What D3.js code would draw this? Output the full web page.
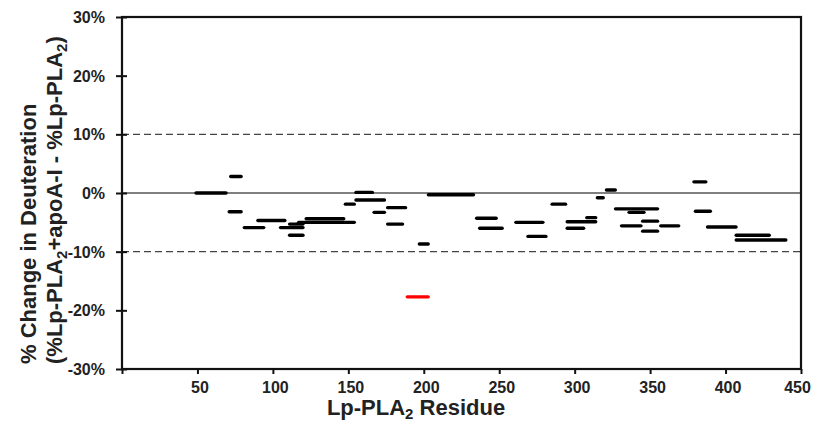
<!DOCTYPE html>
<html><head><meta charset="utf-8">
<script src="https://cdn.jsdelivr.net/npm/d3@7"></script>
<style>body{margin:0;background:#fff}svg{display:block}text{font-family:"Liberation Sans",Arial,sans-serif;font-weight:bold;fill:#222}</style>
</head><body>
<script>
// peptide segments: residue start, residue end, % change in deuteration
const segStart = [48,71,70,89,80,104,110,110,121,116,147,154,154,166,175,175,196,202,234,236,260,268,284,294,294,307,314,320,326,335,344,330,356,344,378,379,387,406,406];
const segEnd   = [70,80,80,109,95,121,121,121,148,155,155,167,175,175,189,187,204,234,249,253,280,282,295,307,315,315,320,328,356,347,356,345,370,356,388,391,408,430,441];
const segValue = [0,2.8,-3.2,-4.7,-5.9,-5.9,-5.3,-7.2,-4.4,-5.0,-1.9,0.1,-1.2,-3.3,-2.5,-5.3,-8.7,-0.3,-4.3,-6.0,-5.0,-7.4,-1.9,-6.0,-4.9,-4.2,-0.8,0.5,-2.7,-3.3,-4.8,-5.6,-5.6,-6.5,1.9,-3.1,-5.8,-7.2,-8.0];
// significant peptide (red)
const sigStart = [188];
const sigEnd = [204];
const sigValue = [-17.7];
const xTicks = [50,100,150,200,250,300,350,400,450];
const yTicks = [-30,-20,-10,0,10,20,30];
const threshold = [-10,10];

const W=813,H=422;
const svg=d3.select("body").append("svg").attr("width",W).attr("height",H);
const x=d3.scaleLinear().domain([0,450]).range([122,801]);
const y=d3.scaleLinear().domain([-30,30]).range([369,17]);

const defs=svg.append("defs");
defs.append("filter").attr("id","blur").append("feGaussianBlur").attr("stdDeviation",1.5);

// threshold dashed lines
svg.selectAll("line.thr").data(threshold).enter().append("line")
  .attr("x1",x(0)).attr("x2",x(450)).attr("y1",d=>y(d)).attr("y2",d=>y(d))
  .attr("stroke","#444").attr("stroke-width",1.3).attr("stroke-dasharray","7,4");

// zero line with shadow
svg.append("line").attr("x1",x(0)).attr("x2",x(450)).attr("y1",y(0)+2.5).attr("y2",y(0)+2.5)
  .attr("stroke","#bbb").attr("stroke-width",3).attr("filter","url(#blur)");
svg.append("line").attr("x1",x(0)).attr("x2",x(450)).attr("y1",y(0)).attr("y2",y(0))
  .attr("stroke","#555").attr("stroke-width",1.6);

// axes
const yAxis=d3.axisLeft(y).tickValues(yTicks).tickSize(4).tickFormat(d=>d+"%");
const gy=svg.append("g").attr("transform",`translate(${x(0)},0)`).call(yAxis);
gy.select(".domain").remove();
gy.selectAll(".tick line").attr("x1",-6).attr("x2",5).attr("stroke","#111").attr("stroke-width",2);
gy.selectAll(".tick text").attr("x",-17).attr("dy","0.35em").style("font-size","16px").style("fill","#222");

const xAxis=d3.axisBottom(x).tickValues([0].concat(xTicks)).tickSize(5).tickFormat(d=>d===0?"":d);
const gx=svg.append("g").attr("transform",`translate(0,${y(-30)})`).call(xAxis);
gx.select(".domain").remove();
gx.selectAll(".tick line").attr("y1",0).attr("y2",5).attr("stroke","#111").attr("stroke-width",2);
gx.selectAll(".tick text").attr("y",24).attr("dy",0).style("font-size","16px").style("fill","#222")
  .attr("dx",d=>d===450?-4:2);

// frame
svg.append("rect").attr("x",x(0)).attr("y",y(30)).attr("width",x(450)-x(0)).attr("height",y(-30)-y(30))
  .attr("fill","none").attr("stroke","#111").attr("stroke-width",2.2);

// segments
const cap=1.6;
const segs=segStart.map((s,i)=>({s,e:segEnd[i],v:segValue[i]}));
svg.selectAll("line.seg").data(segs).enter().append("line")
  .attr("x1",d=>x(d.s)+cap).attr("x2",d=>x(d.e)-cap).attr("y1",d=>y(d.v)).attr("y2",d=>y(d.v))
  .attr("stroke","#000").attr("stroke-width",3.4).attr("stroke-linecap","round");
const sig=sigStart.map((s,i)=>({s,e:sigEnd[i],v:sigValue[i]}));
svg.selectAll("line.sig").data(sig).enter().append("line")
  .attr("x1",d=>x(d.s)+cap).attr("x2",d=>x(d.e)-cap).attr("y1",d=>y(d.v)).attr("y2",d=>y(d.v))
  .attr("stroke","#f00").attr("stroke-width",3.4).attr("stroke-linecap","round");

// axis titles
const yt=svg.append("text").attr("transform","translate(36,364) rotate(-90)").style("font-size","22px");
yt.text("% Change in Deuteration");
const yt2=svg.append("text").attr("transform","translate(62,364) rotate(-90)").style("font-size","22px");
yt2.append("tspan").text("(%Lp-PLA");
yt2.append("tspan").attr("dy",5).style("font-size","15px").text("2");
yt2.append("tspan").attr("dy",-5).text("+apoA-I - %Lp-PLA");
yt2.append("tspan").attr("dy",5).style("font-size","15px").text("2");
yt2.append("tspan").attr("dy",-5).text(")");

const xt=svg.append("text").attr("x",416).attr("y",415).attr("text-anchor","middle").style("font-size","22px");
xt.append("tspan").text("Lp-PLA");
xt.append("tspan").attr("dy",4).style("font-size","15px").text("2");
xt.append("tspan").attr("dy",-4).text(" Residue");
</script>
</body></html>
